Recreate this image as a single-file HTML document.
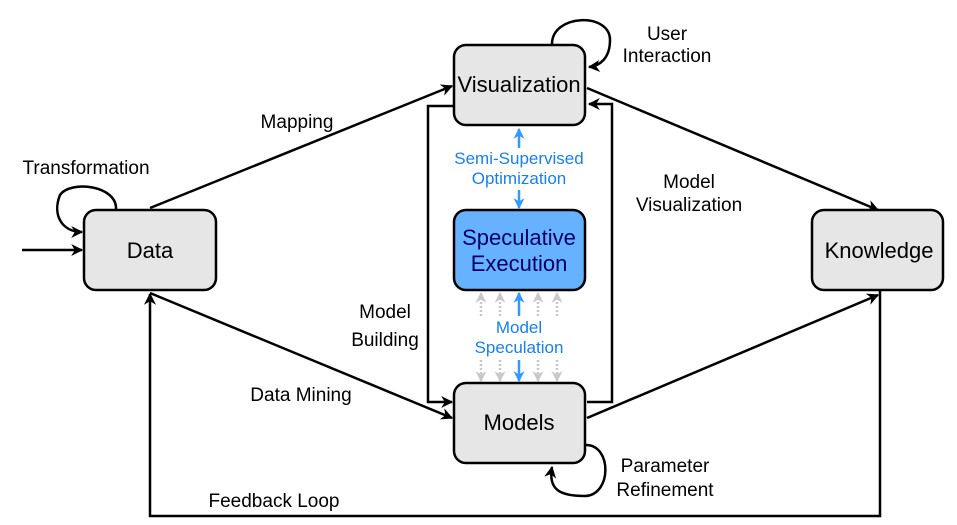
<!DOCTYPE html>
<html><head><meta charset="utf-8"><style>
html,body{margin:0;padding:0;background:#fff}
svg{display:block}
text{font-family:"Liberation Sans",Arial,sans-serif}
</style></head><body>
<svg width="957" height="525" viewBox="0 0 957 525" xmlns="http://www.w3.org/2000/svg">
<defs>
<marker id="a" viewBox="0 0 10 10" refX="9" refY="5" markerWidth="14" markerHeight="12" markerUnits="userSpaceOnUse" orient="auto"><path d="M0,0 L10,5 L0,10 L3,5z" fill="#000"/></marker>
<marker id="ab" viewBox="0 0 10 10" refX="9" refY="5" markerWidth="12" markerHeight="11" markerUnits="userSpaceOnUse" orient="auto"><path d="M0,0 L10,5 L0,10 L3,5z" fill="#3399ff"/></marker>
<marker id="ag" viewBox="0 0 10 10" refX="9" refY="5" markerWidth="12" markerHeight="11" markerUnits="userSpaceOnUse" orient="auto"><path d="M0,0 L10,5 L0,10 L3,5z" fill="#c8c8c8"/></marker>
</defs>
<g fill="none" stroke="#000" stroke-width="2.5">
<line x1="22" y1="250" x2="82" y2="250" marker-end="url(#a)"/>
<path d="M116,210 C118,185 70,180 60,195 C52,215 62,232 82,232" marker-end="url(#a)"/>
<line x1="150" y1="208" x2="452" y2="86" marker-end="url(#a)"/>
<line x1="150" y1="293" x2="452" y2="418" marker-end="url(#a)"/>
<line x1="587" y1="88" x2="878" y2="210" marker-end="url(#a)"/>
<line x1="587" y1="418" x2="878" y2="295" marker-end="url(#a)"/>
<path d="M880,290 L880,516 L150,516 L150,294" marker-end="url(#a)"/>
<path d="M454,106 L428,106 L428,402 L452,402" marker-end="url(#a)"/>
<path d="M587,402 L612,402 L612,104 L589,104" marker-end="url(#a)"/>
<path d="M552,44 C552,14 610,12 610,40 C610,58 600,66 589,67" marker-end="url(#a)"/>
<path d="M586,445 C612,445 612,495 585,496 C560,496 548,490 552,467" marker-end="url(#a)"/>
</g>
<g stroke="#3399ff" stroke-width="2.5" fill="none">
<line x1="519" y1="148" x2="519" y2="129" marker-end="url(#ab)"/>
<line x1="519" y1="190" x2="519" y2="208" marker-end="url(#ab)"/>
<line x1="519" y1="316" x2="519" y2="293" marker-end="url(#ab)"/>
<line x1="519" y1="360" x2="519" y2="381" marker-end="url(#ab)"/>
</g>
<g stroke="#c8c8c8" stroke-width="2.5" fill="none" stroke-dasharray="2,2">
<line x1="481" y1="316" x2="481" y2="293" marker-end="url(#ag)"/>
<line x1="500" y1="316" x2="500" y2="293" marker-end="url(#ag)"/>
<line x1="538" y1="316" x2="538" y2="293" marker-end="url(#ag)"/>
<line x1="557" y1="316" x2="557" y2="293" marker-end="url(#ag)"/>
<line x1="481" y1="360" x2="481" y2="381" marker-end="url(#ag)"/>
<line x1="500" y1="360" x2="500" y2="381" marker-end="url(#ag)"/>
<line x1="538" y1="360" x2="538" y2="381" marker-end="url(#ag)"/>
<line x1="557" y1="360" x2="557" y2="381" marker-end="url(#ag)"/>
</g>
<g stroke="#000" stroke-width="2.5">
<rect x="84" y="210" width="132" height="80" rx="12" fill="#e6e6e6"/>
<rect x="454" y="45" width="131" height="80" rx="12" fill="#e6e6e6"/>
<rect x="454" y="210" width="131" height="80" rx="12" fill="#66b2ff"/>
<rect x="454" y="383" width="131" height="80" rx="12" fill="#e6e6e6"/>
<rect x="812" y="210" width="131" height="80" rx="12" fill="#e6e6e6"/>
</g>
<g font-size="22" text-anchor="middle" fill="#000">
<text x="150" y="258">Data</text>
<text x="519" y="92">Visualization</text>
<text x="519" y="430">Models</text>
<text x="879" y="258">Knowledge</text>
<text x="519" y="245" fill="#000066">Speculative</text>
<text x="519" y="271" fill="#000066">Execution</text>
</g>
<g font-size="19" text-anchor="middle" fill="#000">
<text x="86" y="174">Transformation</text>
<text x="297" y="128">Mapping</text>
<text x="301" y="401">Data Mining</text>
<text x="667" y="40">User</text>
<text x="667" y="62">Interaction</text>
<text x="689" y="188">Model</text>
<text x="689" y="211">Visualization</text>
<text x="385" y="318">Model</text>
<text x="385" y="346">Building</text>
<text x="665" y="472">Parameter</text>
<text x="665" y="496">Refinement</text>
<text x="274" y="507">Feedback Loop</text>
</g>
<g font-size="17" text-anchor="middle" fill="#1a7fe6">
<text x="519" y="164">Semi-Supervised</text>
<text x="519" y="184">Optimization</text>
<text x="519" y="333">Model</text>
<text x="519" y="353">Speculation</text>
</g>
</svg>
</body></html>
